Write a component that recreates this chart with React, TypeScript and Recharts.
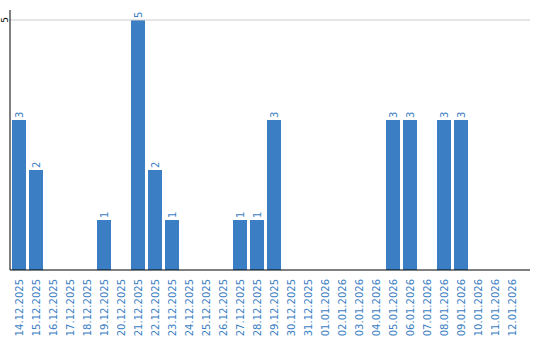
import { BarChart, Bar, XAxis, YAxis, ReferenceLine, LabelList } from "recharts";

const dates = [
  "14.12.2025", "15.12.2025", "16.12.2025", "17.12.2025", "18.12.2025",
  "19.12.2025", "20.12.2025", "21.12.2025", "22.12.2025", "23.12.2025",
  "24.12.2025", "25.12.2025", "26.12.2025", "27.12.2025", "28.12.2025",
  "29.12.2025", "30.12.2025", "31.12.2025", "01.01.2026", "02.01.2026",
  "03.01.2026", "04.01.2026", "05.01.2026", "06.01.2026", "07.01.2026",
  "08.01.2026", "09.01.2026", "10.01.2026", "11.01.2026", "12.01.2026",
];
const counts = [3, 2, 0, 0, 0, 1, 0, 5, 2, 1, 0, 0, 0, 1, 1, 3, 0, 0, 0, 0, 0, 0, 3, 3, 0, 3, 3, 0, 0, 0];
const yTicks = [5];

const BLUE = "#3b7ec3";
const FONT = "DejaVu Sans, Verdana, sans-serif";

const data = dates.map((d, i) => ({ date: d, count: counts[i] }));

function DateTick({ x, y, payload }: any) {
  return (
    <text
      transform={`translate(${x + 4},${y + 1}) rotate(-90)`}
      textAnchor="end"
      fill={BLUE}
      fontSize={10}
      fontFamily={FONT}
    >
      {payload.value}
    </text>
  );
}

// y tick drawn rotated, left of the axis line
function CountTick({ y, payload }: any) {
  return (
    <g>
      <text
        transform={`translate(8,${y}) rotate(-90)`}
        textAnchor="middle"
        fill="#000"
        fontSize={9}
        fontFamily={FONT}
      >
        {payload.value}
      </text>
    </g>
  );
}

function BarValue({ x, y, width, value }: any) {
  if (!value) return null;
  return (
    <text
      transform={`translate(${Number(x) + Number(width) / 2 + 3.5},${Number(y) - 2}) rotate(-90)`}
      textAnchor="start"
      fill={BLUE}
      fontSize={10}
      fontFamily={FONT}
    >
      {value}
    </text>
  );
}

export default function App() {
  return (
    <div style={{ position: "absolute", left: 0, top: 0, background: "#fff" }}>
      <BarChart width={540} height={340} data={data} margin={{ top: 10, right: 10, bottom: 0, left: 0 }} barSize={14}>
        {yTicks.map((t) => (
          <ReferenceLine key={t} y={t} stroke="#cccccc" />
        ))}
        <XAxis
          dataKey="date"
          interval={0}
          height={70}
          tick={<DateTick />}
          tickLine={false}
          axisLine={{ stroke: "#000" }}
          padding={{ left: 0, right: 10 }}
        />
        <YAxis
          domain={[0, 5]}
          ticks={yTicks}
          width={10}
          padding={{ top: 10, bottom: 0 }}
          tick={<CountTick />}
          tickLine={false}
          axisLine={{ stroke: "#000" }}
        />
        <Bar dataKey="count" fill={BLUE} isAnimationActive={false}>
          <LabelList dataKey="count" content={<BarValue />} />
        </Bar>
      </BarChart>
    </div>
  );
}
